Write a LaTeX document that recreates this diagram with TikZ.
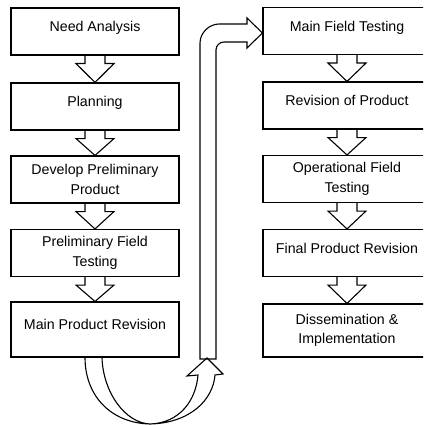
\documentclass[tikz,border=0pt]{standalone}
\usepackage{fontspec}
\setmainfont{Liberation Sans}
\usetikzlibrary{positioning, calc}

\tikzset{
  stepbox/.style={draw=black, line width=1.1pt, minimum width=168pt, minimum height=47pt,
    align=center, inner sep=2pt, font=\fontsize{14.2}{19.5}\selectfont},
  oneline/.style={text depth=10pt},
  blockarr/.style={draw=black, line width=1.1pt, line join=miter},
}
\newcommand{\flowarrow}[2]{%
  \draw[blockarr] ($(#1.south)+(-10,0)$) -- ++(0,8) -- ++(-9,0) -- (#2.north)
    -- ($(#1.south)+(19,8)$) -- ++(-9,0) -- ++(0,-8);}

\begin{document}
\begin{tikzpicture}[x=1pt, y=-1pt]
  \clip (0,0) rectangle (423,425);

  % left column
  \node[stepbox, oneline] (need) at (95,31.5) {Need Analysis};
  \node[stepbox, oneline] (plan) at (95,106.5) {Planning};
  \node[stepbox] (dev) at (95,179.5) {Develop Preliminary\\Product};
  \node[stepbox] (prelim) at (95,253) {Preliminary Field\\Testing};
  \node[stepbox, oneline, minimum height=55pt] (mainrev) at (95,329.5) {Main Product Revision};

  % right column
  \node[stepbox, oneline] (mainfield) at (347,31) {Main Field Testing};
  \node[stepbox, oneline] (revprod) at (347,105.5) {Revision of Product};
  \node[stepbox] (opfield) at (347,179) {Operational Field\\Testing};
  \node[stepbox, oneline] (finalrev) at (347,253) {Final Product Revision};
  \node[stepbox, minimum height=53pt] (dissem) at (347,330.5) {Dissemination \&\\Implementation};

  \flowarrow{need}{plan}
  \flowarrow{plan}{dev}
  \flowarrow{dev}{prelim}
  \flowarrow{prelim}{mainrev}
  \flowarrow{mainfield}{revprod}
  \flowarrow{revprod}{opfield}
  \flowarrow{opfield}{finalrev}
  \flowarrow{finalrev}{dissem}

  % u-turn under the left column
  \draw[blockarr] ($(mainrev.south)+(-10,0)$) .. controls (85,395) and (110,423) .. (150,424)
    .. controls (190,423) and (213,400) .. (215,375) -- (223,374) -- (207,358) -- (187,376)
    -- (198,375) .. controls (196,400) and (180,423) .. (150,424)
    .. controls (125,423) and (103,392) .. ($(mainrev.south)+(7,0)$);

  % riser into the right column
  \coordinate (rtip) at ($(mainfield.west)+(0,2)$);
  \draw[blockarr] (200,359) -- (200,43) .. controls (200,32.5) and (209.5,24) .. (219,24)
    -- (247,24) -- (247,18) -- (rtip) -- (247,48) -- (247,42) -- (224,42)
    .. controls (219.6,42) and (216,45.6) .. (216,50) -- (216,359) -- cycle;
\end{tikzpicture}
\end{document}
